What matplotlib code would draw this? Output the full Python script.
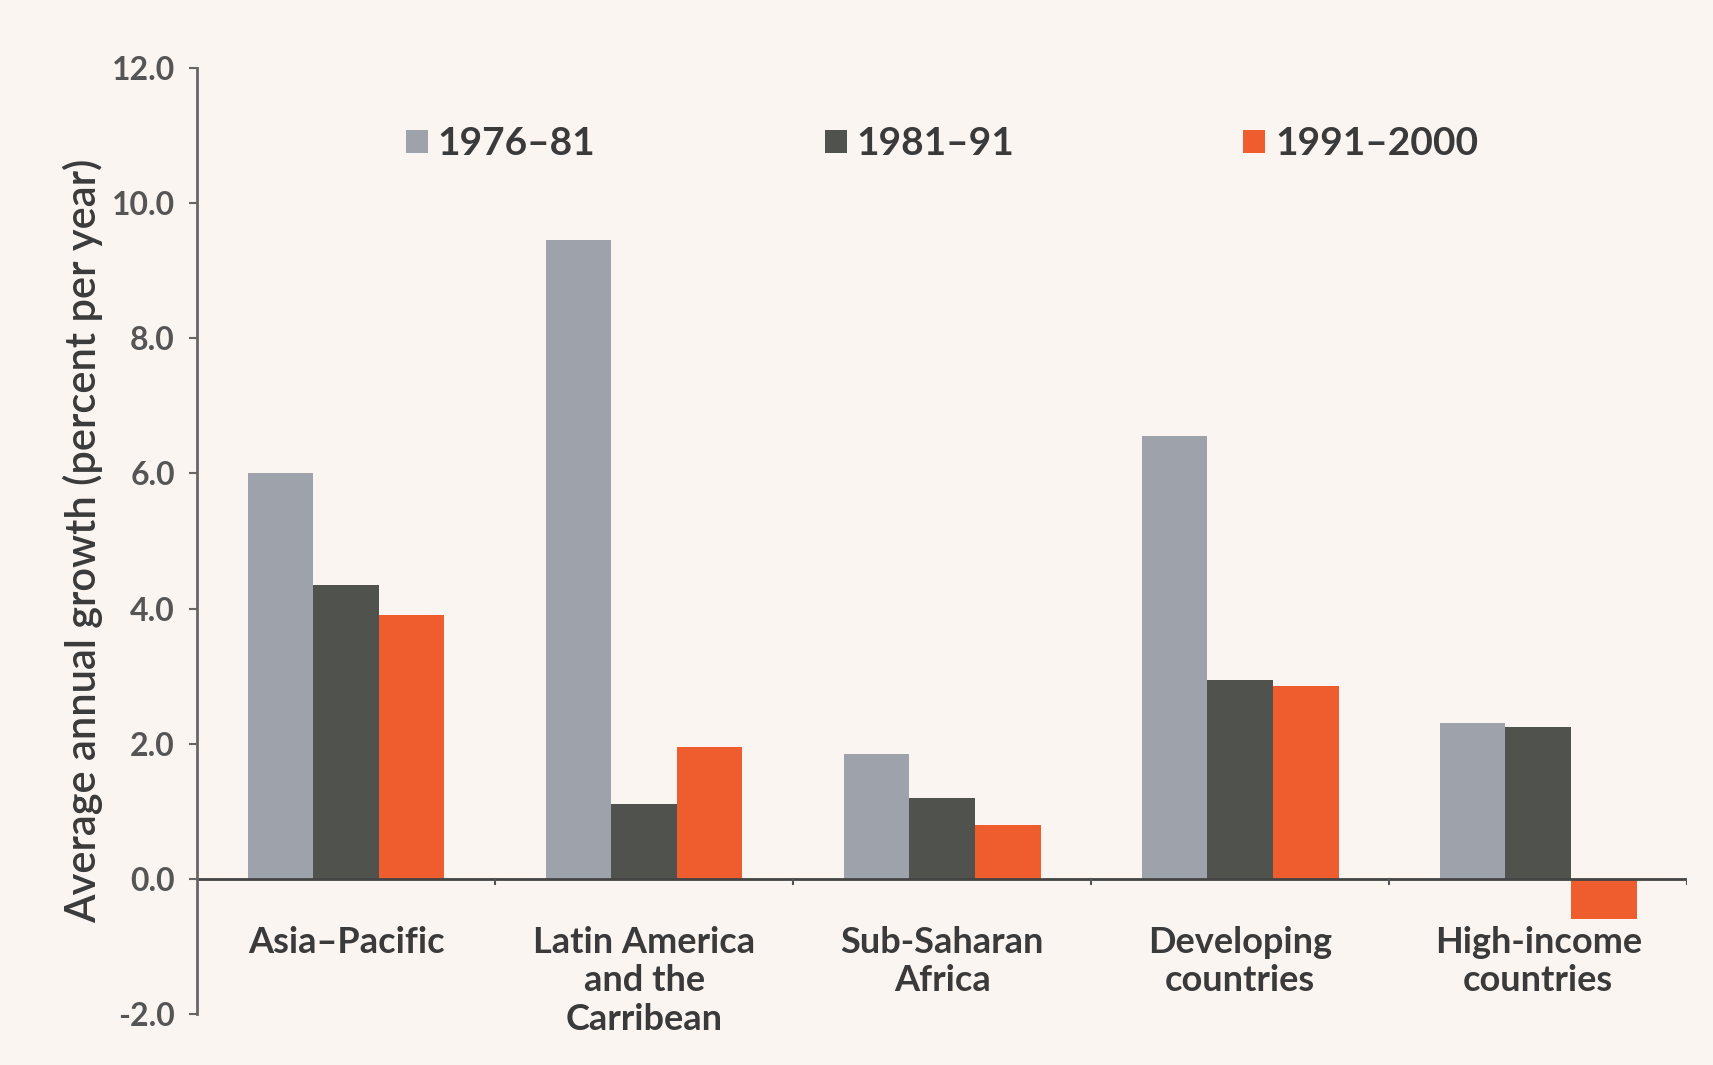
import matplotlib.pyplot as plt
import numpy as np

regions = ['Asia–Pacific', 'Latin America\nand the\nCarribean', 'Sub-Saharan\nAfrica',
           'Developing\ncountries', 'High-income\ncountries']
periods = ['1976–81', '1981–91', '1991–2000']
growth_1976_81 = [6.0, 9.45, 1.85, 6.55, 2.3]
growth_1981_91 = [4.35, 1.1, 1.2, 2.95, 2.25]
growth_1991_2000 = [3.9, 1.95, 0.8, 2.85, -0.6]
yticks = [-2.0, 0.0, 2.0, 4.0, 6.0, 8.0, 10.0, 12.0]

colores = ['#9ea3ab', '#50524d', '#ef5c2e']
fondo = '#fbf5f2'
texto = '#3a3a3a'

plt.rcParams['font.family'] = ['Lato', 'DejaVu Sans']

fig = plt.figure(figsize=(17.13, 10.65), dpi=100, facecolor=fondo)
ax = fig.add_axes([0.115, 0.048, 0.87, 0.888], facecolor=fondo)

x = np.arange(len(regions))
ancho = 0.22
series = [growth_1976_81, growth_1981_91, growth_1991_2000]
for i, (vals, nombre) in enumerate(zip(series, periods)):
    ax.bar(x + (i - 1) * ancho, vals, width=ancho, color=colores[i], label=nombre)

ax.set_xlim(-0.5, 4.5)
ax.set_ylim(-2.0, 12.0)
ax.axhline(0, color='#444444', linewidth=2)

# eje y
ax.set_yticks(yticks)
ax.set_yticklabels([f'{v:.1f}' for v in yticks], fontsize=23, fontweight='bold', color='#555555')
ax.tick_params(axis='y', direction='out', length=6, width=1.5, color='#666666', pad=10)
for lado in ['top', 'right', 'bottom']:
    ax.spines[lado].set_visible(False)
ax.spines['left'].set_color('#666666')
ax.spines['left'].set_linewidth(2)

# eje x: marcas pequeñas entre grupos, etiquetas bajo la línea del cero
ax.set_xticks([])
for b in np.arange(0.5, 5.0, 1.0):
    ax.plot([b, b], [0, -0.08], color='#555555', linewidth=1.5)
for xi, nombre in zip(x, regions):
    ax.text(xi, -0.7, nombre, ha='center', va='top', fontsize=26, fontweight='bold',
            color=texto, linespacing=1.2)

ax.set_ylabel('Average annual growth (percent per year)', fontsize=30, color=texto,
              fontweight='semibold', labelpad=6)

leg = ax.legend(loc='center', bbox_to_anchor=(0.5, 0.92), ncol=3, frameon=False,
                handlelength=0.56, handleheight=0.56, handletextpad=0.25, columnspacing=5.9,
                prop={'size': 28, 'weight': 'bold'})
for t in leg.get_texts():
    t.set_color(texto)

plt.savefig('out.png', dpi=100, facecolor=fondo)
